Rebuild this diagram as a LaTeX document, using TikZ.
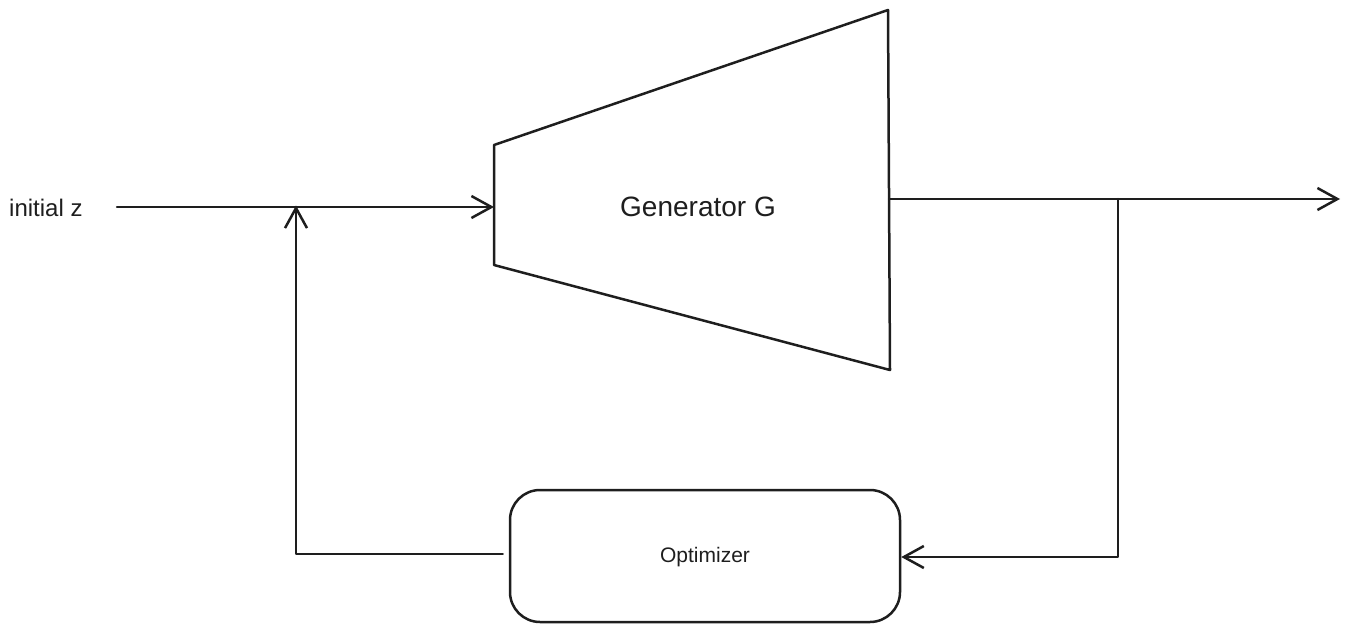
\documentclass[tikz,border=0pt]{standalone}
\usepackage{fontspec}
\setmainfont{Liberation Sans}
\usetikzlibrary{arrows.meta}
\definecolor{ink}{HTML}{1E1E1E}
\begin{document}
\begin{tikzpicture}[x=1pt,y=-1pt,
  line/.style={draw=ink,line width=2.5pt,line join=round,line cap=round},
  arr/.style={line,-{Straight Barb[length=20pt,width=22pt,line width=2.5pt]}},
  lbl/.style={text=ink,inner sep=0pt}]
\useasboundingbox (0,0) rectangle (1352,632);
% generator trapezoid
\coordinate (g1) at (494,145);
\coordinate (g2) at (888,10);
\coordinate (g3) at (890,370);
\coordinate (g4) at (494,265);
\draw[line] (g1) -- (g2) -- (g3) -- (g4) -- cycle;
\node[lbl,font=\fontsize{28}{28}\selectfont] (gen) at (698,207) {Generator G};
\coordinate (gin) at (494,207);
\coordinate (gout) at (889,199);
% input
\node[lbl,font=\fontsize{24}{24}\selectfont,anchor=west] (init) at (9,208) {initial z};
\coordinate (start) at (117,207);
\coordinate (join) at (296,207);
\draw[arr] (start) -- (gin);
% output
\coordinate (out) at (1340,199);
\coordinate (br) at (1118,199);
\coordinate (brd) at (1118,557);
\draw[arr] (gout) -- (out);
% optimizer
\node[line,rounded corners=30pt,minimum width=390pt,minimum height=132pt,inner sep=0pt] (opt) at (705,556) {};
\node[lbl,font=\fontsize{21}{21}\selectfont] (optl) at (705,557) {Optimizer};
\draw[arr] (br) -- (brd) -- (opt.east |- brd);
% feedback
\coordinate (fb) at (296,554);
\draw[arr] ([xshift=-6pt]opt.west |- fb) -- (fb) -- ([yshift=1.5pt]join);
\end{tikzpicture}
\end{document}
